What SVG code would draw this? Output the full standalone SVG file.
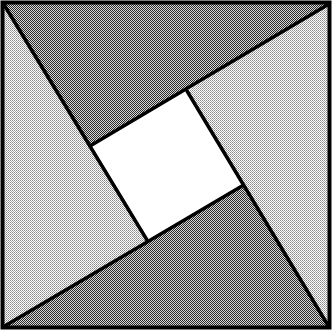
<svg xmlns="http://www.w3.org/2000/svg" width="332" height="332" viewBox="0 0 332 332">
<defs>
<pattern id="dark" width="2" height="2" patternUnits="userSpaceOnUse">
<rect width="2" height="2" fill="#d8d8d8"/>
<rect x="0" y="0" width="1" height="1" fill="#2a2a2a"/>
<rect x="1" y="1" width="1" height="1" fill="#2a2a2a"/>
</pattern>
<pattern id="light" width="2" height="2" patternUnits="userSpaceOnUse">
<rect width="2" height="2" fill="#fff"/>
<rect x="0" y="0" width="1" height="1" fill="#888"/>
<rect x="1" y="1" width="1" height="1" fill="#a8a8a8"/>
</pattern>
</defs>
<style>
.ln{stroke:#000;stroke-width:3.5;fill:none;stroke-linecap:round;stroke-linejoin:round}
</style>
<rect x="0" y="0" width="332" height="332" fill="#fff"/>
<g id="top-triangle"><polygon points="3,3 329,3 90,146" fill="url(#dark)"/></g>
<g id="right-triangle"><polygon points="329,3 329,327 187,91" fill="url(#light)"/></g>
<g id="bottom-triangle"><polygon points="329,327 3,327 242,186" fill="url(#dark)"/></g>
<g id="left-triangle"><polygon points="3,327 3,3 147,240" fill="url(#light)"/></g>
<g id="center-square"><polygon points="90,146 187,91 242,186 147,240" fill="#fff"/></g>
<g id="lines">
<line class="ln" x1="3" y1="3" x2="147" y2="240"/>
<line class="ln" x1="329" y1="4" x2="90" y2="146"/>
<line class="ln" x1="329" y1="327" x2="187" y2="91"/>
<line class="ln" x1="3" y1="327" x2="242" y2="186"/>
<rect x="2.5" y="2.5" width="327" height="325" fill="none" stroke="#000" stroke-width="4"/>
</g>
</svg>
